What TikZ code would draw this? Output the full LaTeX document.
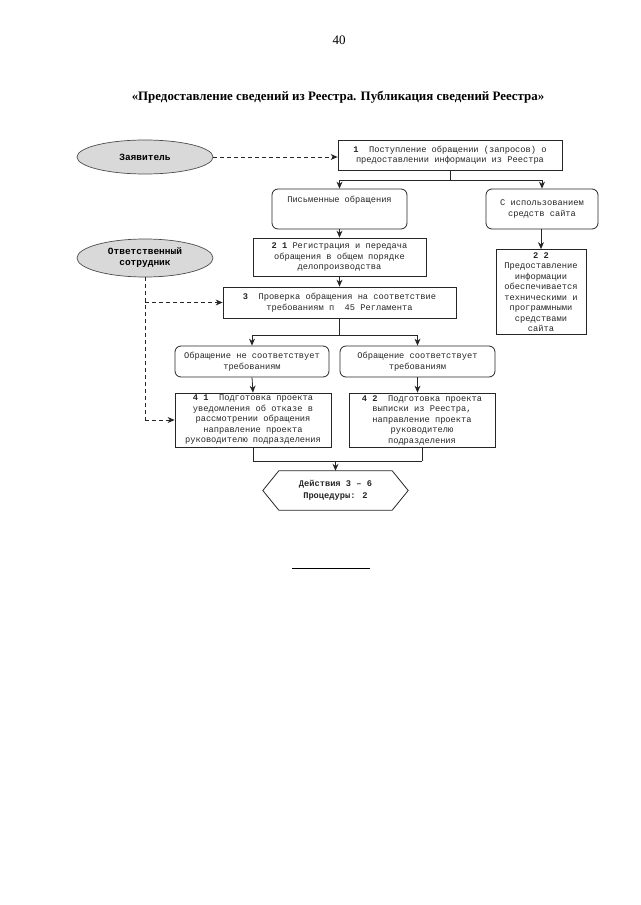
\documentclass[tikz,border=0pt]{standalone}
\usepackage{fontspec}
\setmainfont{Liberation Serif}
\newfontfamily\mono{Liberation Mono}
\usetikzlibrary{shapes.geometric,arrows.meta}
\begin{document}
\begin{tikzpicture}[x=1pt,y=-1pt,
  every node/.style={inner sep=0pt},
  txt/.style={font=\mono\fontsize{8.7}{10.5}\selectfont, text=black!85, align=center},
  box/.style={txt, draw=black!85, line width=0.8pt},
  rbox/.style={box, rounded corners=6pt},
  oval/.style={ellipse, draw=black!70, line width=0.7pt, fill=gray!30,
     font=\mono\bfseries\fontsize{9.5}{11}\selectfont, align=center},
  conn/.style={line width=0.8pt, black!85},
  arr/.style={conn, -{Stealth[length=7pt,width=6pt]}},
  darr/.style={arr, dashed, dash pattern=on 4pt off 3pt}
]
\useasboundingbox (0,0) rectangle (640,905);

\node (pnum) at (339,40) {\fontsize{13}{15}\selectfont 40};
\node (title) at (338,97) {\fontsize{12.9}{15}\selectfont\bfseries «Предоставление сведений из Реестра. Публикация сведений Реестра»};

% nodes
\node[oval, minimum width=136, minimum height=34] (zav) at (145,157) {Заявитель};
\node[oval, minimum width=136, minimum height=38] (otv) at (145,258) {Ответственный\\сотрудник};

\node[box, minimum width=224, minimum height=30] (b1) at (450,155)
  {\textbf{1}\ \ Поступление обращении (запросов) о\\предоставлении информации из Реестра};
\node[rbox, minimum width=135, minimum height=40] (pis) at (339.5,209) {};
\node[txt, anchor=north] (pist) at ([yshift=-7]pis.north) {Письменные обращения};
\node[rbox, minimum width=112, minimum height=40] (site) at (542,209) {С использованием\\средств сайта};
\node[box, minimum width=173, minimum height=38] (b21) at (339.5,257)
  {\textbf{2 1} Регистрация и передача\\обращения в общем порядке\\делопроизводства};
\node[box, minimum width=90, minimum height=85] (b22) at (541,292)
  {\textbf{2 2}\\Предоставление\\информации\\обеспечивается\\техническими и\\программными\\средствами\\сайта};
\node[box, minimum width=233, minimum height=31] (b3) at (339.5,302.5)
  {\textbf{3}\ \ Проверка обращения на соответствие\\требованиям п\ \ 45 Регламента};
\node[rbox, minimum width=154, minimum height=31] (no) at (252,361.5)
  {Обращение не соответствует\\требованиям};
\node[rbox, minimum width=155, minimum height=31] (yes) at (417.5,361.5)
  {Обращение соответствует\\требованиям};
\node[box, minimum width=156, minimum height=54] (b41) at (253,420)
  {\textbf{4 1}\ \ Подготовка проекта\\уведомления об отказе в\\рассмотрении обращения\\направление проекта\\руководителю подразделения};
\node[box, minimum width=146, minimum height=54] (b42) at (422,420)
  {\textbf{4 2}\ \ Подготовка проекта\\выписки из Реестра,\\направление проекта\\руководителю\\подразделения};
\node[txt, font=\mono\bfseries\fontsize{8.7}{11.5}\selectfont, minimum width=145, minimum height=39] (hex) at (335.5,490.5)
  {Действия 3 – 6\\Процедуры: 2};
\draw[conn] (hex.west) -- ([xshift=16]hex.north west) -- ([xshift=-16]hex.north east)
  -- (hex.east) -- ([xshift=-16]hex.south east) -- ([xshift=16]hex.south west) -- cycle;

% connectors
\draw[darr] (zav.east) -- (zav.east -| b1.west);
\draw[conn] (b1.south) -- ++(0,10) coordinate (s1);
\draw[conn] (s1 -| pis.north) -- (s1 -| site.north);
\draw[arr] (s1 -| pis.north) -- (pis.north);
\draw[arr] (s1 -| site.north) -- (site.north);
\draw[arr] (pis.south) -- (b21.north);
\draw[arr] (site.south -| b22.north) -- (b22.north);
\draw[arr] (b21.south) -- (b3.north);
\draw[conn] (b3.south) -- ++(0,17) coordinate (s3);
\draw[conn] (s3 -| no.north) -- (s3 -| yes.north);
\draw[arr] (s3 -| no.north) -- (no.north);
\draw[arr] (s3 -| yes.north) -- (yes.north);
\draw[arr] (no.south) -- (b41.north);
\draw[arr] (yes.south) -- (yes.south |- b42.north);
\draw[conn] (b41.south) -- ++(0,14) coordinate (s4);
\draw[conn] (b42.south) -- (b42.south |- s4);
\draw[conn] (s4) -- (b42.south |- s4);
\draw[arr] (s4 -| hex.north) -- (hex.north);
\draw[conn, dashed, dash pattern=on 4pt off 3pt] (otv.south) -- (otv.south |- b41.west) coordinate (d4);
\draw[darr] (d4) -- (b41.west);
\draw[darr] (otv.south |- b3.west) -- (b3.west);

% footnote rule
\coordinate (r1) at (292,568);
\coordinate (r2) at (370,568);
\draw[line width=0.6pt] (r1) -- (r2);
\end{tikzpicture}
\end{document}
